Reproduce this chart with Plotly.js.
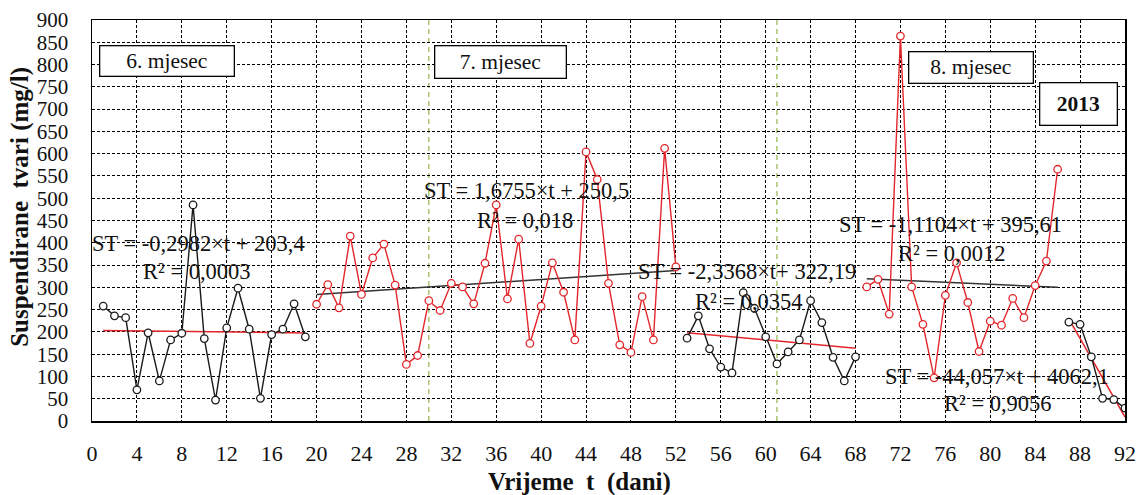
<!DOCTYPE html>
<html>
<head>
<meta charset="utf-8">
<script src="https://cdn.plot.ly/plotly-3.0.1.min.js"></script>
<style>html,body{margin:0;padding:0;background:#fff;}#chart{width:1139px;height:495px;}</style>
</head>
<body>
<div id="chart"></div>
<script>
// ---- data ----
const daysJune1 = [1,2,3,4,5,6,7,8,9,10,11,12,13,14,15,16,17,18,19];
const valsJune1 = [258,236,232,70,198,90,182,197,485,185,47,209,298,206,51,194,206,263,189];

const daysJuly1 = [20,21,22,23,24,25,26,27,28,29,30,31,32,33,34,35,36,37,38,39,40,41,42,43,44,45,46,47,48,49,50,51,52];
const valsJuly1 = [262,306,254,415,284,366,397,305,127,147,270,248,309,301,263,354,485,274,408,174,258,355,289,182,604,542,309,171,154,279,182,612,346];

const daysJuly2 = [53,54,55,56,57,58,59,60,61,62,63,64,65,66,67,68];
const valsJuly2 = [186,236,162,121,108,288,253,189,128,155,182,270,221,143,90,144];

const daysAug1 = [69,70,71,72,73,74,75,76,77,78,79,80,81,82,83,84,85,86];
const valsAug1 = [301,318,240,864,301,217,97,282,355,266,156,224,215,275,232,304,359,565];

const daysAug2 = [87,88,89,90,91,92];
const valsAug2 = [222,217,144,51,48,29];

// linear trends as printed on the chart: ST = a*t + b
const trendSlopes     = [-0.2982, 1.6755, -2.3368, -1.1104, -44.057];
const trendIntercepts = [203.4, 250.5, 322.19, 395.61, 4062.1];
const trendStart      = [1, 20, 53, 69, 87];
const trendEnd        = [19, 52, 68, 86, 92];
const trendLabels = [
  "ST = -0,2982×t + 203,4", "ST = 1,6755×t + 250,5", "ST = -2,3368×t+ 322,19",
  "ST = -1,1104×t + 395,61", "ST = -44,057×t + 4062,1"];
const r2Labels = ["R² = 0,0003", "R² = 0,018", "R² = 0,0354", "R² = 0,0012", "R² = 0,9056"];

const monthLabels = ["6. mjesec", "7. mjesec", "8. mjesec"];
const monthBoundaries = [30, 61];
const yearLabel = "2013";
const xTickVals = [0,4,8,12,16,20,24,28,32,36,40,44,48,52,56,60,64,68,72,76,80,84,88,92];
const yTickVals = [0,50,100,150,200,250,300,350,400,450,500,550,600,650,700,750,800,850,900];

// ---- styling ----
const RED = "#e3262b";
const BLK = "#1a1a1a";
const FONT = "Liberation Serif, Times New Roman, serif";

function seriesTrace(x, y, color) {
  return {x: x, y: y, type: "scatter", mode: "lines+markers", showlegend: false,
    line: {color: color, width: 1.4},
    marker: {symbol: "circle", size: 7.5, color: "#ffffff", line: {color: color, width: 1.3}},
    hoverinfo: "x+y"};
}
function trendTrace(i, color) {
  const xs = [trendStart[i], trendEnd[i]];
  const ys = xs.map(t => trendSlopes[i] * t + trendIntercepts[i]);
  return {x: xs, y: ys, type: "scatter", mode: "lines", showlegend: false,
    line: {color: color, width: 1.5}, hoverinfo: "skip"};
}

const traces = [
  trendTrace(0, RED), trendTrace(1, "#333333"), trendTrace(2, RED), trendTrace(3, "#333333"), trendTrace(4, RED),
  seriesTrace(daysJune1, valsJune1, BLK),
  seriesTrace(daysJuly1, valsJuly1, RED),
  seriesTrace(daysJuly2, valsJuly2, BLK),
  seriesTrace(daysAug1, valsAug1, RED),
  seriesTrace(daysAug2, valsAug2, BLK)
];

// label positions (day, value)
const eqPos = [[9.47, 399], [38.7, 518], [58.35, 335], [76.5, 440], [80.6, 99]];
const r2Pos = [[9.38, 335], [38.6, 451], [58.5, 268], [76.6, 377], [80.65, 40]];

const annotations = [];
for (let i = 0; i < trendLabels.length; i++) {
  annotations.push({x: eqPos[i][0], y: eqPos[i][1], text: trendLabels[i], showarrow: false,
    xanchor: "center", yanchor: "middle", font: {family: FONT, size: 22.5, color: "#111"}});
  annotations.push({x: r2Pos[i][0], y: r2Pos[i][1], text: r2Labels[i], showarrow: false,
    xanchor: "center", yanchor: "middle", font: {family: FONT, size: 22.5, color: "#111"}});
}
const boxes = [
  {t: monthLabels[0], x: 6.65, y: 807, w: 133, h: 29, bold: false},
  {t: monthLabels[1], x: 36.35, y: 805, w: 130, h: 31, bold: false},
  {t: monthLabels[2], x: 78.25, y: 794, w: 123, h: 30, bold: false},
  {t: yearLabel, x: 87.9, y: 712, w: 76, h: 41, bold: true}
];
boxes.forEach(b => annotations.push({
  x: b.x, y: b.y, text: b.bold ? "<b>" + b.t + "</b>" : b.t, showarrow: false,
  xanchor: "center", yanchor: "middle", width: b.w, height: b.h,
  bgcolor: "#ffffff", bordercolor: "#000", borderwidth: 1.3, borderpad: 0,
  font: {family: FONT, size: 21.5, color: "#111"}
}));
// axis titles
annotations.push({xref: "paper", yref: "paper", x: 0.4724, y: -0.152, text: "<b>Vrijeme\u00a0 t\u00a0 (dani)</b>",
  showarrow: false, xanchor: "center", yanchor: "middle", font: {family: FONT, size: 25, color: "#111"}});
annotations.push({xref: "paper", yref: "paper", x: -0.0697, y: 0.534, text: "<b>Suspendirane\u00a0 tvari (mg/l)</b>",
  showarrow: false, textangle: -90, xanchor: "center", yanchor: "middle", font: {family: FONT, size: 25, color: "#111"}});

const shapes = monthBoundaries.map(d => ({
  type: "line", xref: "x", yref: "paper", x0: d, x1: d, y0: 0, y1: 1, layer: "below",
  line: {color: "#9bbb59", width: 1.3, dash: "5px,4px"}
}));

const layout = {
  width: 1139, height: 495,
  margin: {l: 92, r: 14, t: 20, b: 74},
  paper_bgcolor: "#fff", plot_bgcolor: "#fff",
  font: {family: FONT, size: 21, color: "#111"},
  xaxis: {range: [0, 92], tickvals: xTickVals, ticktext: xTickVals.map(String),
    showgrid: true, gridcolor: "#000", gridwidth: 1, griddash: "3px,2px",
    showline: true, linecolor: "#000", linewidth: 1.5, mirror: true, zeroline: false,
    ticks: "", ticklabelstandoff: 12, tickfont: {family: FONT, size: 22, color: "#111"}},
  yaxis: {range: [0, 900], tickvals: yTickVals, ticktext: yTickVals.map(String),
    showgrid: true, gridcolor: "#000", gridwidth: 1, griddash: "3px,2px",
    showline: true, linecolor: "#000", linewidth: 1.5, mirror: true, zeroline: false,
    ticks: "", ticklabelstandoff: 18, tickfont: {family: FONT, size: 21, color: "#111"}},
  annotations: annotations,
  shapes: shapes,
  showlegend: false
};

Plotly.newPlot("chart", traces, layout, {displayModeBar: false, staticPlot: true});
</script>
</body>
</html>
